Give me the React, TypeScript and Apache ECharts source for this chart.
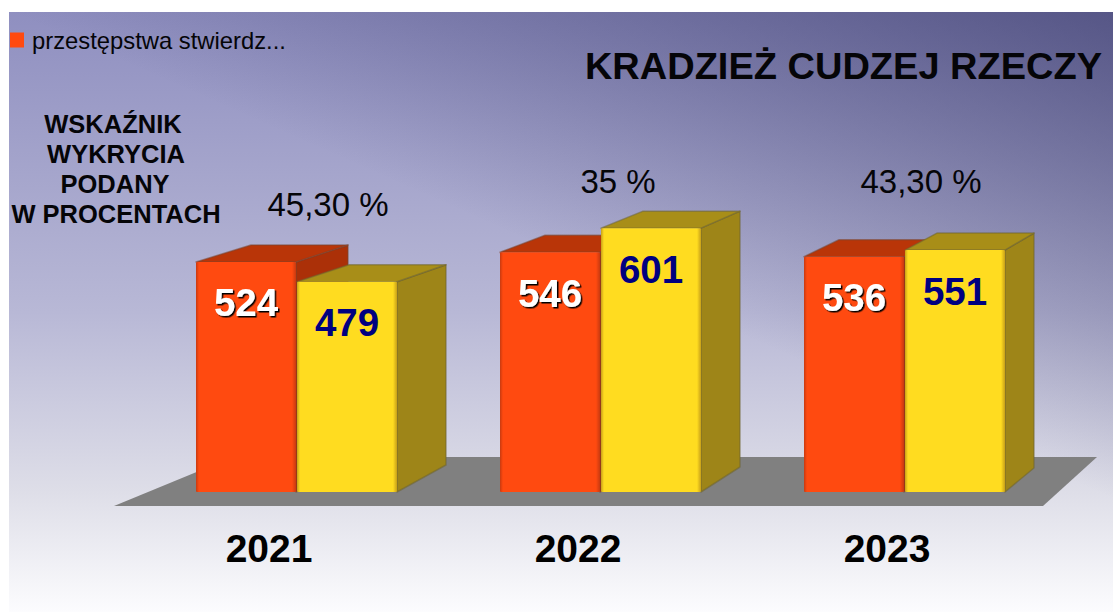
import React, { useEffect, useRef } from "react";
import * as echarts from "echarts";

const years = ["2021", "2022", "2023"];
const reported = [524, 546, 536];
const detected = [479, 601, 551];
const rates = ["45,30 %", "35 %", "43,30 %"];
const noteLines = ["WSKAŹNIK", "WYKRYCIA", "PODANY", "W PROCENTACH"];
const legendName = "przestępstwa stwierdz...";
const detectedName = "przestępstwa wykryte";
const titleText = "KRADZIEŻ CUDZEJ RZECZY";

const FONT = '"Liberation Sans", Arial, sans-serif';
const BAR_W = 100;
const DEPTHS = [49, 39, 29];
const TOP_RISE = 17;
const BASE_RISE = [27, 25, 24];

const hGrad = (edge: string, main: string) =>
  new echarts.graphic.LinearGradient(0, 0, 1, 0, [
    { offset: 0, color: edge },
    { offset: 0.03, color: main },
    { offset: 0.96, color: main },
    { offset: 1, color: edge },
  ]);

function barRenderer(side: "left" | "right", c: any) {
  return (params: any, api: any) => {
    const idx = api.value(0);
    const val = api.value(1);
    const top = api.coord([idx, val]);
    const base = api.coord([idx, 0]);
    const x0 = side === "left" ? top[0] - BAR_W : top[0] + 1;
    const x1 = x0 + BAR_W;
    const d = DEPTHS[idx] + c.extraDepth;
    const backD = d + 3;
    const rise = BASE_RISE[idx];
    const y = top[1];
    const b = base[1];
    const edge = { stroke: c.edge, lineWidth: 1.5, lineJoin: "round" };
    return {
      type: "group",
      children: [
        {
          type: "polygon",
          shape: { points: [[x1, y], [x1 + d, y - TOP_RISE], [x1 + d, b - rise], [x1, b]] },
          style: { fill: c.side, ...edge },
        },
        {
          type: "polygon",
          shape: { points: [[x0, y], [x0 + backD, y - TOP_RISE], [x1 + d, y - TOP_RISE], [x1, y]] },
          style: { fill: c.top, ...edge },
        },
        {
          type: "rect",
          shape: { x: x0, y, width: BAR_W, height: b - y, r: 1 },
          style: { fill: hGrad(c.frontEdge, c.front) },
        },
        {
          type: "text",
          x: x0 + BAR_W / 2,
          y: y + 41,
          style: {
            text: String(val),
            fill: c.label,
            font: `bold 38.5px ${FONT}`,
            textAlign: "center",
            textVerticalAlign: "middle",
            ...(c.labelShadow
              ? { textShadowColor: c.labelShadow, textShadowOffsetX: 1.5, textShadowOffsetY: 1.5, textShadowBlur: 0.6 }
              : {}),
          },
        },
      ],
    };
  };
}

const red = {
  front: "#ff4a10",
  frontEdge: "#c83a10",
  top: "#b93508",
  side: "#ab3008",
  edge: "rgba(120,70,50,0.55)",
  label: "#ffffff",
  labelShadow: "#000000",
  extraDepth: 3,
};
const yellow = {
  front: "#ffdc20",
  frontEdge: "#c8a018",
  top: "#a88e18",
  side: "#9e8518",
  edge: "rgba(110,100,50,0.55)",
  label: "#000080",
  labelShadow: "",
  extraDepth: 0,
};

export default function App() {
  const ref = useRef<HTMLDivElement>(null);
  useEffect(() => {
    const chart = echarts.init(ref.current!, undefined, { renderer: "svg" });
    const textEl = (text: string, x: number, y: number, size: number, bold: boolean, scaleX = 1) => ({
      type: "text",
      x,
      y,
      scaleX,
      z: 100,
      style: {
        text,
        fill: "#050508",
        font: `${bold ? "bold " : ""}${size}px ${FONT}`,
        textAlign: "center",
        textVerticalAlign: "middle",
      },
    });
    const noteCx = [113, 116, 115, 116];
    const rateX = [328, 618, 921];
    const rateY = [204, 181, 181];
    chart.setOption({
      animation: false,
      backgroundColor: "#ffffff",
      grid: [
        { left: 144, width: 912, top: 53, height: 439 },
        { left: 114.5, width: 927, top: 53, height: 439 },
      ],
      xAxis: [
        { type: "category", data: years, gridIndex: 0, show: false },
        {
          type: "category",
          data: years,
          gridIndex: 1,
          axisLine: { show: false },
          axisTick: { show: false },
          axisLabel: { color: "#000", fontFamily: "Liberation Sans", fontWeight: "bold", fontSize: 39, margin: 37 },
        },
      ],
      yAxis: [
        { type: "value", min: 0, max: 1000, gridIndex: 0, show: false },
        { type: "value", min: 0, max: 1000, gridIndex: 1, show: false },
      ],
      legend: {
        data: [{ name: legendName, icon: "rect" }],
        left: 10,
        top: 28,
        padding: 0,
        itemWidth: 14,
        itemHeight: 15,
        itemGap: 0,
        selectedMode: false,
        textStyle: { color: "#050508", fontFamily: "Liberation Sans", fontSize: 23.8, padding: [0, 0, 0, 3] },
      },
      graphic: [
        {
          type: "rect",
          z: -10,
          shape: { x: 9, y: 12, width: 1104, height: 600 },
          style: {
            fill: new echarts.graphic.LinearGradient(
              0, 0, 0, 1,
              [
                { offset: 0, color: "#8f8fc0" },
                { offset: 0.5, color: "#b8b8d6" },
                { offset: 0.8, color: "#dedee8" },
                { offset: 1, color: "#fcfcfe" },
              ]
            ),
          },
        },
        {
          type: "rect",
          z: -9,
          shape: { x: 9, y: 12, width: 1104, height: 600 },
          style: {
            fill: new echarts.graphic.LinearGradient(
              1113, 12, 933, 420,
              [
                { offset: 0, color: "rgba(48,48,96,0.6)" },
                { offset: 1, color: "rgba(48,48,96,0)" },
              ],
              true
            ),
          },
        },
        {
          type: "polygon",
          z: -5,
          shape: { points: [[114, 506], [233, 457], [1097, 457], [1043, 506]] },
          style: { fill: "#808080" },
        },
        textEl(titleText, 843.5, 66, 37, true, 1.027),
        ...noteLines.map((t, i) => textEl(t, noteCx[i], 124 + i * 30, 25.5, true)),
        ...rates.map((t, i) => textEl(t, rateX[i], rateY[i], 33, false)),
      ],
      series: [
        {
          type: "custom",
          name: legendName,
          coordinateSystem: "cartesian2d",
          xAxisIndex: 0,
          yAxisIndex: 0,
          itemStyle: { color: "#ff4a10" },
          data: reported.map((v, i) => [i, v]),
          encode: { x: 0, y: 1 },
          renderItem: barRenderer("left", red),
          z: 2,
        },
        {
          type: "custom",
          name: detectedName,
          coordinateSystem: "cartesian2d",
          xAxisIndex: 0,
          yAxisIndex: 0,
          itemStyle: { color: "#ffdc20" },
          data: detected.map((v, i) => [i, v]),
          encode: { x: 0, y: 1 },
          renderItem: barRenderer("right", yellow),
          z: 3,
        },
      ],
    });
    return () => chart.dispose();
  }, []);
  return <div ref={ref} style={{ position: "absolute", left: 0, top: 0, width: 1113, height: 612 }} />;
}
